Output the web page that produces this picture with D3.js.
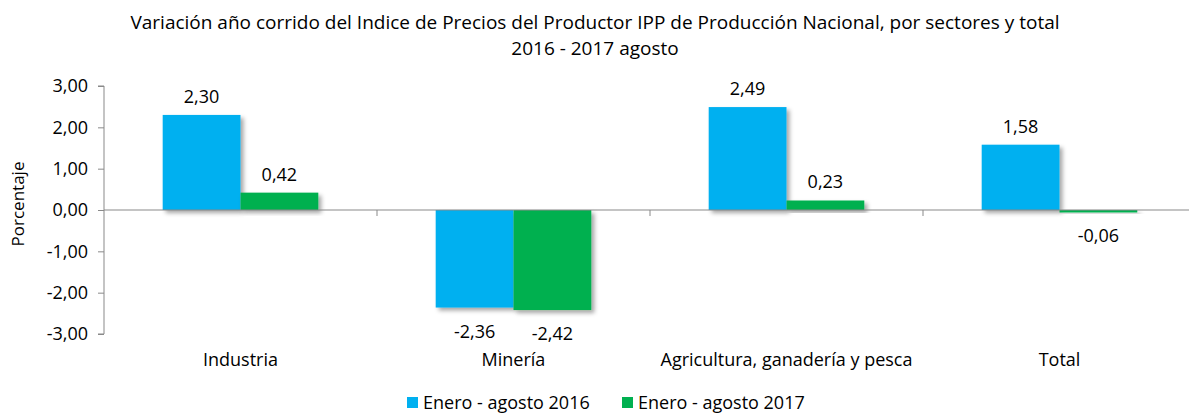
<!DOCTYPE html>
<html>
<head>
<meta charset="utf-8">
<title></title>
<style>
  body { margin: 0; background: #fff; }
  text { font-family: "Open Sans", "Noto Sans", sans-serif; fill: #000; }
</style>
</head>
<body>
<svg id="chart" width="1189" height="413"></svg>
<script src="https://d3js.org/d3.v7.min.js"></script>
<script>
const categories = ["Industria", "Minería", "Agricultura, ganadería y pesca", "Total"]
const seriesNames = ["Enero - agosto 2016", "Enero - agosto 2017"]
const values2016 = [2.30, -2.36, 2.49, 1.58]
const values2017 = [0.42, -2.42, 0.23, -0.06]
const yTicks = [-3, -2, -1, 0, 1, 2, 3]
const colors = ["#00B0F0", "#00B050"]

const svg = d3.select("#chart")
const fmt = v => d3.format(".2f")(v).replace(".", ",").replace("−", "-")

// drop shadow like the original
const defs = svg.append("defs")
const f = defs.append("filter").attr("id", "shadow")
  .attr("x", "-20%").attr("y", "-20%").attr("width", "150%").attr("height", "150%")
f.append("feDropShadow").attr("dx", 3).attr("dy", 3).attr("stdDeviation", 2)
  .attr("flood-color", "#000").attr("flood-opacity", 0.35)

// plot runs a bit past the right edge, like the original
const plotLeft = 104, plotRight = 1196, plotTop = 86, plotBottom = 334

let y = d3.scaleLinear().domain([-3, 3]).range([plotBottom, plotTop])
let x0 = d3.scaleBand().domain(categories).range([plotLeft, plotRight]).paddingInner(0.43).paddingOuter(0.215)
let x1 = d3.scaleBand().domain(seriesNames).range([0, x0.bandwidth()])

// title
svg.append("text").attr("x", 595).attr("y", 29).attr("text-anchor", "middle")
  .style("font-size", "19px")
  .text("Variación año corrido del Indice de Precios del Productor IPP de Producción Nacional, por sectores y total")
svg.append("text").attr("x", 595).attr("y", 55).attr("text-anchor", "middle")
  .style("font-size", "19px")
  .text("2016 - 2017 agosto")

// y axis
let yAxis = svg.append("g").attr("transform", `translate(${plotLeft},0)`)
  .call(d3.axisLeft(y).tickValues(yTicks).tickFormat(fmt).tickSize(6).tickPadding(10))
yAxis.select(".domain").attr("stroke", "#898989").attr("d", `M-6,${plotTop}H0V${plotBottom}H-6`)
yAxis.selectAll(".tick line").attr("stroke", "#898989")
yAxis.selectAll(".tick text").style("font-size", "18px").style("font-family", "'Open Sans', sans-serif")

svg.append("text")
  .attr("transform", `translate(24,${(plotTop + plotBottom) / 2 - 6}) rotate(-90)`)
  .attr("text-anchor", "middle").style("font-size", "17px")
  .text("Porcentaje")

// bars
const rows = categories.map((c, i) => ({ cat: c, vals: [values2016[i], values2017[i]] }))
const groups = svg.selectAll("g.grp").data(rows).enter().append("g")
  .attr("class", "grp")
  .attr("transform", d => `translate(${x0(d.cat)},0)`)

groups.selectAll("rect").data(d => d.vals.map((v, j) => ({ v, j })))
  .enter().append("rect")
  .attr("x", d => x1(seriesNames[d.j]))
  .attr("width", x1.bandwidth())
  .attr("y", d => Math.min(y(d.v), y(0)))
  .attr("height", d => Math.max(Math.abs(y(d.v) - y(0)), 2))
  .attr("fill", d => colors[d.j])
  .attr("filter", "url(#shadow)")

groups.selectAll("text.lbl").data(d => d.vals.map((v, j) => ({ v, j })))
  .enter().append("text")
  .attr("class", "lbl")
  .attr("x", d => x1(seriesNames[d.j]) + x1.bandwidth() / 2)
  .attr("y", d => d.v >= 0 ? y(d.v) - 12 : y(d.v) + 30)
  .attr("text-anchor", "middle").style("font-size", "18px")
  .text(d => fmt(d.v))

// zero line + category ticks
svg.append("line").attr("x1", plotLeft).attr("x2", plotRight).attr("y1", y(0)).attr("y2", y(0))
  .attr("stroke", "#898989")
const step = (plotRight - plotLeft) / categories.length
d3.range(1, categories.length).forEach(k => {
  svg.append("line").attr("x1", plotLeft + k * step).attr("x2", plotLeft + k * step)
    .attr("y1", y(0)).attr("y2", y(0) + 6).attr("stroke", "#898989")
})

// category labels
svg.selectAll("text.cat").data(categories).enter().append("text")
  .attr("class", "cat")
  .attr("x", d => x0(d) + x0.bandwidth() / 2)
  .attr("y", 366).attr("text-anchor", "middle").style("font-size", "18px")
  .text(d => d)

// legend
const legX = [407, 622]
seriesNames.forEach((s, i) => {
  svg.append("rect").attr("x", legX[i]).attr("y", 397).attr("width", 11).attr("height", 11).attr("fill", colors[i])
  svg.append("text").attr("x", legX[i] + 16).attr("y", 409).style("font-size", "18px").text(s)
})
</script>
</body>
</html>
